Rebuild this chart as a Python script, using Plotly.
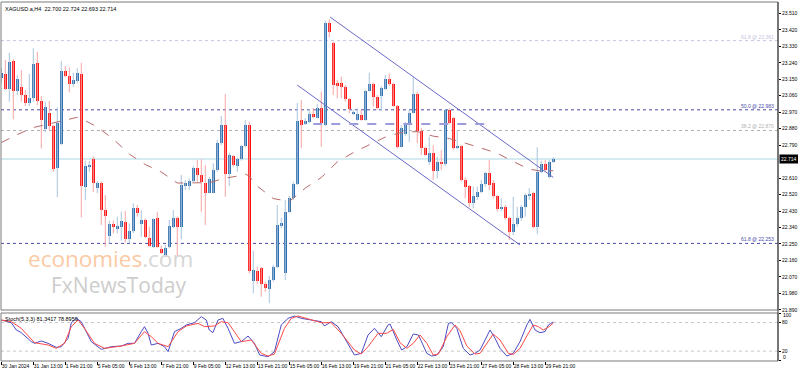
import plotly.graph_objects as go

symbol_title = "XAGUSD.a,H4  22.700 22.724 22.693 22.714"
stoch_title = "Stoch(5,3,3) 81.3417 78.8959"

opens = [23.155, 23.177, 23.096, 23.251, 23.085, 23.109, 23.064, 23.018, 23.046, 23.240,
         23.031, 22.878, 22.967, 22.896, 22.663, 22.796, 23.195, 23.169, 23.124, 23.142,
         23.177, 22.563, 22.672, 22.714, 22.557, 22.581, 22.435, 22.293, 22.357, 22.331,
         22.344, 22.371, 22.275, 22.322, 22.448, 22.357, 22.381, 22.281, 22.235, 22.390,
         22.222, 22.184, 22.232, 22.344, 22.390, 22.344, 22.568, 22.566, 22.594, 22.663,
         22.627, 22.581, 22.530, 22.530, 22.654, 22.800, 22.900, 22.630, 22.730, 22.676,
         22.714, 22.785, 22.900, 22.047, 22.102, 22.117, 22.031, 22.002, 22.053, 22.125,
         22.348, 22.089, 22.426, 22.499, 22.577, 22.927, 22.905, 22.918, 22.960, 22.940,
         22.991, 22.900, 23.455, 23.349, 23.128, 23.128, 23.109, 23.040, 22.960, 22.927,
         22.954, 22.927, 23.085, 23.124, 23.054, 23.058, 23.096, 23.151, 23.124, 23.005,
         22.781, 22.849, 22.900, 22.967, 23.069, 22.867, 22.772, 22.699, 22.748, 22.650,
         22.699, 22.687, 22.982, 22.936, 22.772, 22.785, 22.599, 22.566, 22.472, 22.505,
         22.535, 22.577, 22.639, 22.581, 22.512, 22.439, 22.450, 22.390, 22.317, 22.359,
         22.390, 22.453, 22.512, 22.527, 22.341, 22.645, 22.687, 22.614, 22.700]
highs = [23.210, 23.255, 23.295, 23.259, 23.173, 23.200, 23.091, 23.178, 23.319, 23.300,
         23.058, 23.027, 23.031, 22.900, 22.996, 23.249, 23.222, 23.215, 23.186, 23.210,
         23.240, 22.705, 22.703, 22.727, 22.594, 22.590, 22.517, 22.377, 22.377, 22.399,
         22.426, 22.430, 22.363, 22.472, 22.463, 22.435, 22.390, 22.344, 22.390, 22.426,
         22.239, 22.244, 22.381, 22.435, 22.399, 22.627, 22.599, 22.608, 22.676, 22.709,
         22.712, 22.681, 22.617, 22.690, 22.818, 22.949, 23.069, 22.748, 22.736, 22.723,
         22.790, 22.927, 22.918, 22.213, 22.125, 22.125, 22.044, 22.075, 22.135, 22.463,
         22.392, 22.490, 22.512, 22.590, 23.020, 23.036, 22.936, 22.987, 22.993, 23.014,
         23.082, 23.470, 23.477, 23.355, 23.146, 23.164, 23.118, 23.046, 22.982, 22.991,
         22.982, 23.091, 23.186, 23.131, 23.064, 23.113, 23.173, 23.182, 23.131, 23.009,
         22.900, 22.916, 22.982, 23.164, 23.082, 22.883, 22.781, 22.836, 22.790, 22.727,
         22.763, 22.986, 22.991, 22.945, 22.872, 22.790, 22.614, 22.572, 22.563, 22.563,
         22.599, 22.645, 22.709, 22.599, 22.517, 22.499, 22.463, 22.399, 22.508, 22.453,
         22.463, 22.527, 22.555, 22.535, 22.778, 22.705, 22.709, 22.709, 22.724]
lows = [23.128, 23.091, 23.027, 22.931, 23.064, 23.027, 23.004, 23.004, 23.027, 23.009,
        22.772, 22.860, 22.872, 22.645, 22.505, 22.790, 23.160, 23.078, 23.109, 23.128,
        22.395, 22.490, 22.645, 22.535, 22.527, 22.353, 22.235, 22.253, 22.308, 22.308,
        22.268, 22.257, 22.253, 22.308, 22.399, 22.289, 22.281, 22.235, 22.229, 22.229,
        22.195, 22.177, 22.226, 22.335, 22.184, 22.275, 22.545, 22.545, 22.588, 22.590,
        22.426, 22.353, 22.527, 22.527, 22.645, 22.790, 22.508, 22.566, 22.672, 22.645,
        22.705, 22.778, 22.089, 21.980, 22.031, 21.962, 21.989, 21.926, 22.044, 22.117,
        22.337, 22.053, 22.419, 22.490, 22.572, 22.772, 22.900, 22.909, 22.936, 22.936,
        22.781, 22.894, 23.379, 23.064, 23.046, 23.046, 23.027, 22.964, 22.954, 22.923,
        22.923, 22.923, 23.082, 23.000, 22.982, 22.982, 23.091, 23.113, 23.000, 22.772,
        22.776, 22.840, 22.808, 22.964, 22.800, 22.736, 22.732, 22.681, 22.599, 22.608,
        22.654, 22.676, 22.905, 22.763, 22.767, 22.590, 22.499, 22.453, 22.445, 22.490,
        22.527, 22.563, 22.545, 22.499, 22.426, 22.431, 22.381, 22.271, 22.298, 22.344,
        22.377, 22.399, 22.490, 22.335, 22.304, 22.636, 22.645, 22.608, 22.693]
closes = [23.182, 23.096, 23.242, 23.085, 23.151, 23.064, 23.018, 23.046, 23.233, 23.031,
          22.927, 22.996, 22.896, 22.658, 22.912, 23.196, 23.167, 23.124, 23.146, 23.186,
          22.566, 22.676, 22.681, 22.584, 22.581, 22.435, 22.404, 22.357, 22.341, 22.348,
          22.377, 22.275, 22.321, 22.445, 22.417, 22.381, 22.286, 22.240, 22.384, 22.235,
          22.202, 22.226, 22.348, 22.390, 22.344, 22.572, 22.581, 22.594, 22.663, 22.627,
          22.587, 22.530, 22.603, 22.654, 22.800, 22.900, 22.630, 22.736, 22.681, 22.714,
          22.785, 22.900, 22.104, 22.107, 22.047, 22.031, 22.007, 22.053, 22.125, 22.353,
          22.363, 22.426, 22.501, 22.577, 22.922, 22.900, 22.922, 22.960, 22.945, 22.991,
          22.909, 23.455, 23.410, 23.118, 23.118, 23.106, 23.040, 22.986, 22.972, 22.960,
          22.927, 23.085, 23.124, 23.051, 22.991, 23.100, 23.151, 23.124, 23.005, 22.778,
          22.882, 22.904, 22.967, 23.069, 22.867, 22.772, 22.736, 22.745, 22.650, 22.699,
          22.687, 22.982, 22.909, 22.772, 22.785, 22.599, 22.563, 22.472, 22.512, 22.535,
          22.577, 22.639, 22.572, 22.512, 22.439, 22.453, 22.390, 22.317, 22.359, 22.390,
          22.453, 22.517, 22.523, 22.341, 22.645, 22.687, 22.654, 22.699, 22.714]

ma_idx = [0, 4, 8, 12, 16, 19, 20, 24, 28, 32, 36, 40, 44, 48, 52, 56, 60, 61, 62, 64,
          68, 72, 76, 80, 84, 88, 92, 96, 100, 104, 108, 112, 116, 120, 124, 128, 132, 136, 138]
ma_val = [22.804, 22.848, 22.886, 22.905, 22.927, 22.942, 22.935, 22.889, 22.823, 22.741,
          22.684, 22.643, 22.583, 22.583, 22.585, 22.610, 22.624, 22.632, 22.621, 22.566,
          22.498, 22.482, 22.555, 22.613, 22.698, 22.749, 22.790, 22.834, 22.859, 22.864,
          22.839, 22.826, 22.801, 22.773, 22.746, 22.700, 22.659, 22.644, 22.651]

k_idx = [0, 2.5, 3.75, 5, 7.5, 8.3, 10, 11.7, 13.75, 15, 16.7, 17.5, 18.75, 20, 22.5, 25, 27.5,
         30, 31.7, 33.3, 35, 35.8, 36.7, 37.5, 39.2, 40.8, 41.7, 43.3, 45, 46.25, 48.3, 50,
         51.25, 52, 52.9, 54.2, 55.4, 56.7, 58.3, 60, 61.7, 63.3, 64.6, 66.7, 68.3, 70, 71.7,
         73.3, 75, 77.5, 80, 80.8, 82.5, 84.2, 86.7, 88.3, 90, 91.7, 93.3, 95, 96.7, 97.2, 98.9,
         100.1, 101.4, 103, 104.3, 105.1, 106.4, 107.6, 108.9, 110.5, 111.8, 112.6, 113.9,
         115.5, 117.2, 118.4, 119.7, 122.2, 123.45, 124.7, 126.4, 128, 129.7, 131.4, 132.2,
         133.45, 134.7, 135.95, 136.8, 138]
k_val = [85.3, 79.7, 64.4, 58.8, 39.9, 36.4, 41.3, 36.4, 28.0, 29.4, 46.9, 79.7, 88.8, 81.8,
         39.9, 23.8, 29.4, 30.8, 36.4, 36.4, 60.9, 71.4, 57.4, 32.9, 36.4, 29.4, 18.9, 60.9,
         67.8, 74.9, 79.7, 92.3, 85.3, 64.4, 58.8, 85.3, 88.8, 67.8, 36.4, 39.9, 51.8, 36.4,
         11.9, 8.4, 18.9, 74.9, 88.8, 93.7, 88.8, 85.3, 81.8, 72.8, 81.8, 71.4, 36.4, 11.9,
         15.4, 53.9, 67.8, 50.4, 74.9, 76.9, 43.3, 22.4, 29.4, 56.0, 53.9, 39.9, 15.4, 9.8,
         11.9, 29.4, 78.3, 79.7, 67.8, 25.9, 11.9, 15.4, 22.4, 64.4, 46.9, 25.9, 9.8, 15.4,
         39.9, 74.9, 86.7, 64.4, 58.8, 60.9, 74.9, 81.3]
d_idx = [0, 2.5, 5, 8.3, 11.7, 13.75, 15.8, 17.5, 19.2, 20.8, 23.3, 25.8, 30, 33.3, 35.8,
         37.5, 39.2, 41.7, 44.2, 46.25, 49.2, 50.8, 53.3, 55, 56.7, 60, 62.5, 65, 66.7, 68.3,
         70.8, 72.5, 74.2, 77.5, 80, 82.5, 85, 88.3, 90, 91.7, 94.2, 96.4, 98, 99.7, 101.4,
         103, 104.7, 106.4, 108, 109.3, 111.4, 113.45, 114.7, 116.4, 118.45, 119.7, 121.4,
         123, 124.7, 126.8, 128, 129.7, 131.4, 133, 134.3, 135.5, 137, 138]
d_val = [85.3, 81.8, 67.8, 37.8, 32.9, 25.9, 36.4, 71.4, 85.3, 67.8, 36.4, 25.9, 30.8, 36.4,
         60.9, 50.4, 36.4, 29.4, 60.9, 72.8, 78.3, 71.4, 72.8, 81.8, 79.7, 39.9, 43.4, 15.4,
         9.8, 14.0, 67.8, 88.8, 93.7, 85.3, 79.7, 79.7, 57.4, 22.4, 14.0, 29.4, 57.4, 57.4,
         65.8, 37.8, 25.9, 36.4, 53.9, 36.4, 11.9, 14.0, 50.4, 74.9, 62.9, 30.8, 14.0, 15.4,
         36.4, 55.9, 43.4, 15.4, 13.3, 25.9, 51.8, 74.9, 71.4, 64.4, 71.4, 78.9]

price_ticks = [23.51, 23.42, 23.33, 23.24, 23.15, 23.06, 22.97, 22.88, 22.79,
               22.61, 22.52, 22.43, 22.34, 22.25, 22.16, 22.07, 21.98, 21.89]
stoch_ticks = [0, 20, 80, 100]
stoch_tick_text = ["", "20", "80", ""]
stoch_edge_labels = ["100", "0"]
stoch_edge_pos = [96.0, 7.5]
date_idx = [0, 8, 16, 24, 32, 40, 48, 56, 64, 72, 80, 88, 96, 104, 112, 120, 128, 136]
date_labels = ["30 Jan 2024", "31 Jan 13:00", "1 Feb 21:00", "5 Feb 05:00", "6 Feb 13:00",
               "7 Feb 21:00", "9 Feb 05:00", "12 Feb 13:00", "13 Feb 21:00", "15 Feb 05:00",
               "16 Feb 13:00", "19 Feb 21:00", "21 Feb 05:00", "22 Feb 13:00", "23 Feb 21:00",
               "27 Feb 05:00", "28 Feb 13:00", "29 Feb 21:00"]

fib_levels = [23.361, 22.983, 22.870, 22.253]
fib_labels = ["61.8 @ 23.361", "50.0 @ 22.983", "38.2 @ 22.870", "61.8 @ 22.253"]
fib_colors = ["#c4c4e0", "#4a4aa8", "#b0b0b0", "#4a4aa8"]

channel_upper_x = [82.2, 138]
channel_upper_y = [23.490, 22.614]
channel_lower_x = [74, 129.7]
channel_lower_y = [23.118, 22.244]
dashed_level_x = [78, 121]
dashed_level_y = [22.905, 22.905]
last_price = 22.714

FONT = "Liberation Sans"
UP_BODY, DN_BODY = "#3370ae", "#ff1010"
UP_WICK, DN_WICK = "#a9c3de", "#f7a3a3"

n = len(opens)
idx = list(range(n))
up = [closes[i] >= opens[i] for i in idx]

fig = go.Figure()

for is_up, col in [(True, UP_WICK), (False, DN_WICK)]:
    xs, ys = [], []
    for i in idx:
        if up[i] == is_up:
            xs += [i, i, None]
            ys += [highs[i], lows[i], None]
    fig.add_trace(go.Scatter(x=xs, y=ys, mode="lines", line=dict(color=col, width=1),
                             hoverinfo="skip", showlegend=False, xaxis="x", yaxis="y"))

fig.add_trace(go.Bar(
    x=idx,
    base=[min(opens[i], closes[i]) for i in idx],
    y=[max(abs(closes[i] - opens[i]), 0.004) for i in idx],
    width=0.75,
    marker=dict(color=[UP_BODY if u else DN_BODY for u in up], line=dict(width=0)),
    showlegend=False, xaxis="x", yaxis="y"))

fig.add_trace(go.Scatter(x=ma_idx, y=ma_val, mode="lines",
                         line=dict(color="#b86a6a", width=1, dash="dash"),
                         showlegend=False, xaxis="x", yaxis="y"))

fig.add_trace(go.Scatter(x=k_idx, y=k_val, mode="lines", line=dict(color="#4c4cc4", width=1),
                         showlegend=False, xaxis="x2", yaxis="y2"))
fig.add_trace(go.Scatter(x=d_idx, y=d_val, mode="lines", line=dict(color="#ff4a4a", width=1),
                         showlegend=False, xaxis="x2", yaxis="y2"))

XR = [-0.075, 194.2]
MAIN_DOM = [0.142, 1.0]
STO_DOM = [0.0, 0.1337]

shapes = []
annotations = []

for lvl, lab, col in zip(fib_levels, fib_labels, fib_colors):
    shapes.append(dict(type="line", xref="paper", yref="y", x0=0, x1=1, y0=lvl, y1=lvl,
                       line=dict(color=col, width=1, dash="dot"), layer="below"))
    annotations.append(dict(xref="paper", yref="y", x=0.998, y=lvl, text=lab, showarrow=False,
                            xanchor="right", yanchor="bottom", yshift=-1,
                            font=dict(family=FONT, size=5, color=col)))

shapes.append(dict(type="line", xref="paper", yref="y", x0=0, x1=1, y0=last_price, y1=last_price,
                   line=dict(color="#d4ecf1", width=2), layer="below"))

shapes.append(dict(type="line", xref="x", yref="y", x0=channel_upper_x[0], x1=channel_upper_x[1],
                   y0=channel_upper_y[0], y1=channel_upper_y[1], line=dict(color="#6a6ac6", width=1)))
shapes.append(dict(type="line", xref="x", yref="y", x0=channel_lower_x[0], x1=channel_lower_x[1],
                   y0=channel_lower_y[0], y1=channel_lower_y[1], line=dict(color="#6a6ac6", width=1)))
shapes.append(dict(type="line", xref="x", yref="y", x0=dashed_level_x[0], x1=dashed_level_x[1],
                   y0=dashed_level_y[0], y1=dashed_level_y[1],
                   line=dict(color="#9c9cdc", width=2, dash="dash")))

for lv in [80, 20]:
    shapes.append(dict(type="line", xref="paper", yref="y2", x0=0, x1=1, y0=lv, y1=lv,
                       line=dict(color="#c8c8c8", width=1, dash="dot"), layer="below"))

shapes.append(dict(type="rect", xref="paper", yref="paper", x0=0, x1=1, y0=MAIN_DOM[0], y1=MAIN_DOM[1],
                   line=dict(color="#7a7a7a", width=1)))
shapes.append(dict(type="rect", xref="paper", yref="paper", x0=0, x1=1, y0=STO_DOM[0], y1=STO_DOM[1],
                   line=dict(color="#7a7a7a", width=1)))
shapes.append(dict(type="line", xref="paper", yref="paper", x0=1, x1=1, y0=0, y1=1,
                   line=dict(color="#303030", width=1)))

annotations.append(dict(xref="paper", yref="paper", x=0.003, y=0.995, text=symbol_title,
                        showarrow=False, xanchor="left", yanchor="top",
                        font=dict(family=FONT, size=5.5, color="#000")))
annotations.append(dict(xref="paper", yref="paper", x=0.003, y=STO_DOM[1] - 0.004, text=stoch_title,
                        showarrow=False, xanchor="left", yanchor="top",
                        font=dict(family=FONT, size=5.5, color="#000")))

for lab, pos in zip(stoch_edge_labels, stoch_edge_pos):
    annotations.append(dict(xref="paper", yref="y2", x=1.0, y=pos, text=lab, showarrow=False,
                            xanchor="left", yanchor="middle", xshift=3,
                            font=dict(family=FONT, size=5, color="#000")))

annotations.append(dict(xref="paper", yref="y", x=1.0, y=last_price, text=f"{last_price:.3f}",
                        showarrow=False, xanchor="left", yanchor="middle", xshift=1,
                        bgcolor="#000", borderpad=1,
                        font=dict(family=FONT, size=5, color="#fff")))

annotations.append(dict(xref="x", yref="y", x=27.4, y=22.17,
                        text='<span style="color:#fbcaa4">economies</span><span style="color:#d6d6d6">.com</span>',
                        showarrow=False, font=dict(family="Open Sans", size=22.5)))
annotations.append(dict(xref="x", yref="y", x=29.3, y=22.025, text="FxNewsToday",
                        showarrow=False, font=dict(family="Open Sans", size=21, color="#cdcdcd")))

fig.update_layout(
    width=798, height=371,
    margin=dict(l=1, r=20, t=2, b=10, autoexpand=False),
    paper_bgcolor="white", plot_bgcolor="white",
    showlegend=False, bargap=0,
    font=dict(family=FONT, size=5, color="#000"),
    xaxis=dict(domain=[0, 1], range=XR, anchor="y", showticklabels=False, showgrid=False,
               zeroline=False, showline=False, ticks="", automargin=False),
    yaxis=dict(domain=MAIN_DOM, range=[21.889, 23.572], side="right", anchor="x",
               tickvals=price_ticks, ticktext=[f"{t:.3f}" for t in price_ticks],
               ticks="outside", ticklen=2, tickcolor="#000", showgrid=False, zeroline=False,
               showline=False, automargin=False,
               tickfont=dict(family=FONT, size=5, color="#000")),
    xaxis2=dict(domain=[0, 1], range=XR, anchor="y2", matches="x", showgrid=False, zeroline=False,
                tickvals=date_idx, ticktext=date_labels, ticks="outside", ticklen=3,
                tickcolor="#000", ticklabelposition="outside right", tickangle=0,
                showline=False, automargin=False,
                tickfont=dict(family=FONT, size=5, color="#000")),
    yaxis2=dict(domain=STO_DOM, range=[-0.6, 100], side="right", anchor="x2",
                tickvals=stoch_ticks, ticktext=stoch_tick_text,
                ticks="outside", ticklen=2, tickcolor="#000", showgrid=False, zeroline=False,
                showline=False, automargin=False,
                tickfont=dict(family=FONT, size=5, color="#000")),
    shapes=shapes, annotations=annotations,
)

fig.write_html("out.html", config={"displayModeBar": False},
               post_script="document.body.style.margin='0px';document.body.style.padding='0px';document.body.style.overflow='hidden';")
